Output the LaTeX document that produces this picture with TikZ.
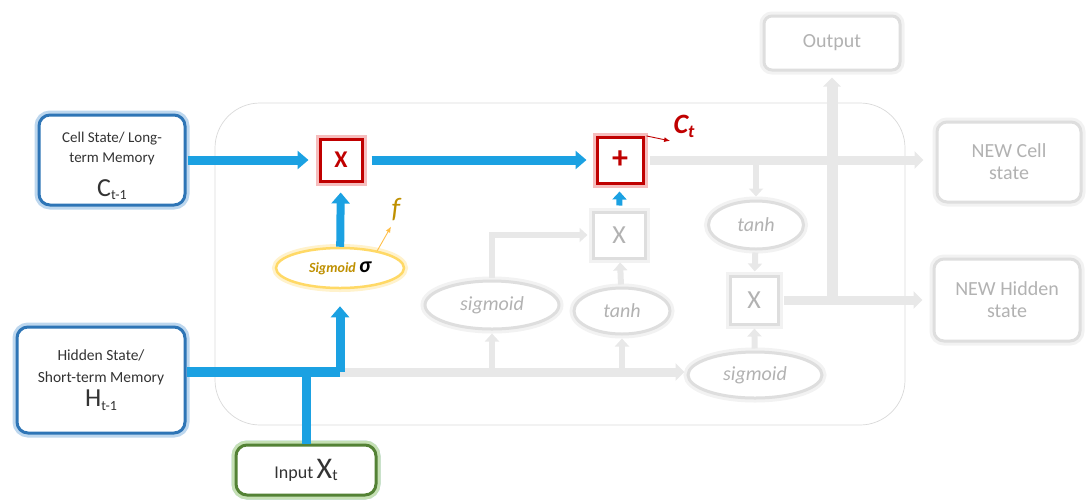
\documentclass[tikz,border=0pt]{standalone}
\usepackage{fontspec}
\setmainfont{Carlito}
\usetikzlibrary{arrows.meta, positioning, shapes.geometric}

\definecolor{flowblue}{HTML}{1BA1E2}
\definecolor{boxblue}{HTML}{2E75B6}
\definecolor{glowblue}{HTML}{BDD7EE}
\definecolor{gatered}{HTML}{C00000}
\definecolor{glowred}{HTML}{F6BDBD}
\definecolor{sunyellow}{HTML}{FFD966}
\definecolor{glowyellow}{HTML}{FFF2CC}
\definecolor{goldtext}{HTML}{BF9000}
\definecolor{inputgreen}{HTML}{548235}
\definecolor{glowgreen}{HTML}{C5E0B4}

% lowered index in text fonts
\newcommand{\subtxt}[2][14]{\raisebox{-0.15em}{\fontsize{#1}{#1}\selectfont #2}}

\begin{document}
\begin{tikzpicture}[x=1pt,y=-1pt]
  \tikzstyle{memory}=[rectangle,rounded corners=11pt,draw=boxblue,line width=3pt,
    preaction={draw=glowblue,line width=9pt},fill=white,align=center,inner sep=0pt,
    text=black!80,font=\fontsize{15}{20}\selectfont]
  \tikzstyle{gate}=[rectangle,draw=gatered,line width=3pt,
    preaction={draw=glowred,line width=9pt},fill=white,minimum size=42pt,inner sep=0pt,
    text=gatered,font=\fontsize{24}{24}\selectfont\bfseries]
  \tikzstyle{layer}=[ellipse,draw=sunyellow,line width=2.5pt,
    preaction={draw=glowyellow,line width=8pt},fill=white,inner sep=0pt]
  \tikzstyle{faded}=[draw=black!13,line width=3pt,preaction={draw=black!5,line width=9pt},
    fill=white,text=black!30,inner sep=0pt,align=center,font=\fontsize{20}{22}\selectfont]
  \tikzstyle{flow}=[draw=flowblue,line width=9pt,-{Triangle[width=18pt,length=11pt]}]
  \tikzstyle{ghost}=[draw=black!9,line width=9pt,-{Triangle[width=17pt,length=9pt]}]
  \tikzstyle{stub}=[draw=black!9,line width=6pt,-{Triangle[width=14pt,length=8pt]}]

  \useasboundingbox (0,0) rectangle (1086,499);

  % cell frame
  \draw[black!15,line width=0.7pt,rounded corners=45pt] (215,103) rectangle (905,425);

  % inputs
  \node[memory,minimum width=146pt,minimum height=90pt] (cprev) at (112,160)
    {\rule{0pt}{22pt}Cell State/ Long-\\term Memory\\[14pt]{\fontsize{26}{28}\selectfont C\subtxt{t-1}}};
  \node[memory,minimum width=168pt,minimum height=106pt,font=\fontsize{15.5}{22}\selectfont]
    (hprev) at (101,380)
    {Hidden State/\\Short-term Memory\\[2pt]{\fontsize{26}{30}\selectfont H\subtxt{t-1}}};
  \node[memory,draw=inputgreen,preaction={draw=glowgreen,line width=9pt},
    minimum width=140pt,minimum height=50pt] (input) at (306,470)
    {{\fontsize{18}{20}\selectfont Input} {\fontsize{30}{30}\selectfont X}\subtxt[16]{t}};

  % forget gate
  \node[gate] (mulf) at (341,160) {X};
  \node[gate,minimum size=46pt,font=\fontsize{32}{32}\selectfont\bfseries] (addc) at (620,160) {+};
  \node[layer,minimum width=128pt,minimum height=40pt] (sigf) at (340,268)
    {\fontsize{14}{14}\selectfont\bfseries\itshape\color{goldtext}Sigmoid
     {\fontsize{22}{22}\selectfont\color{black}σ}};
  \node[text=gatered,font=\fontsize{28}{28}\selectfont\bfseries\itshape] (ct) at (684,126)
    {C\subtxt[18]{t}};
  \node[text=goldtext,font=\fontsize{28}{28}\selectfont\itshape] (flab) at (396,210) {f};

  % rest of the cell
  \node[faded,rounded corners=8pt,minimum width=136pt,minimum height=54pt] (out) at (832,43) {Output};
  \node[faded,rounded corners=10pt,minimum width=144pt,minimum height=80pt] (newc) at (1009,162)
    {NEW Cell\\state};
  \node[faded,rounded corners=10pt,minimum width=146pt,minimum height=82pt] (newh) at (1007,300)
    {NEW Hidden\\state};
  \node[faded,ellipse,minimum width=95pt,minimum height=48pt] (tanhc) at (756,225) {\itshape tanh};
  \node[faded,minimum size=48pt,font=\fontsize{26}{26}\selectfont] (mulo) at (754,300) {X};
  \node[faded,ellipse,minimum width=134pt,minimum height=46pt] (sigo) at (755,375) {\itshape sigmoid};
  \node[faded,minimum width=52pt,minimum height=46pt,font=\fontsize{26}{26}\selectfont] (muli) at (619,235) {X};
  \node[faded,ellipse,minimum width=134pt,minimum height=48pt] (sigi) at (492,305) {\itshape sigmoid};
  \node[faded,ellipse,minimum width=96pt,minimum height=46pt] (tanhi) at (622,311) {\itshape tanh};

  \coordinate (hj) at (340,372);

  % faded paths
  \draw[ghost,shorten <=5pt,shorten >=12pt] (addc.east) -- (newc.west |- addc.east);
  \draw[ghost,shorten <=4pt,shorten >=10pt] (mulo) -- (newh);
  \draw[ghost,line width=11pt,shorten >=6pt] (out.south |- mulo.east) -- (out);
  \draw[ghost,shorten >=2pt] (hj) -- (hj -| sigo.west);
  \draw[stub,shorten >=3pt] (tanhc.north |- addc.east) -- (tanhc.north);
  \draw[stub,shorten <=2pt,shorten >=3pt] (tanhc) -- (mulo);
  \draw[stub,shorten <=2pt,shorten >=3pt] (sigo) -- (mulo);
  \draw[stub,shorten >=3pt] (sigi.south |- hj) -- (sigi);
  \draw[stub,shorten >=3pt] (tanhi.south |- hj) -- (tanhi);
  \draw[stub,shorten <=2pt,shorten >=3pt] (tanhi) -- (muli);
  \draw[stub,shorten <=2pt,shorten >=4pt] (sigi.north) |- (muli.west);

  % blue paths through the forget gate
  \draw[flow,-,line width=10pt] (hprev.east |- hj) -- (hj);
  \draw[flow,shorten >=17pt] (hj) -- (sigf.south);
  \draw[flow,-] (input.north) -- (input.north |- hj);
  \draw[flow,shorten <=1pt,shorten >=10pt] (cprev) -- (mulf);
  \draw[flow,shorten <=8pt,shorten >=9pt] (mulf) -- (addc);
  \draw[flow,line width=8pt,shorten >=10pt] (sigf) -- (mulf);
  \draw[stub,draw=flowblue,shorten <=5pt,shorten >=7pt] (muli) -- (addc);

  \draw[gatered,line width=0.9pt,-{Latex[length=6pt,width=5pt]},shorten <=2pt]
    (addc.north east) -- (ct.south west);
  \draw[sunyellow!70!orange,line width=0.9pt,-{Latex[length=6pt,width=5pt]},shorten >=2pt]
    (sigf.25) -- ([xshift=-4pt]flab.south);
\end{tikzpicture}
\end{document}
